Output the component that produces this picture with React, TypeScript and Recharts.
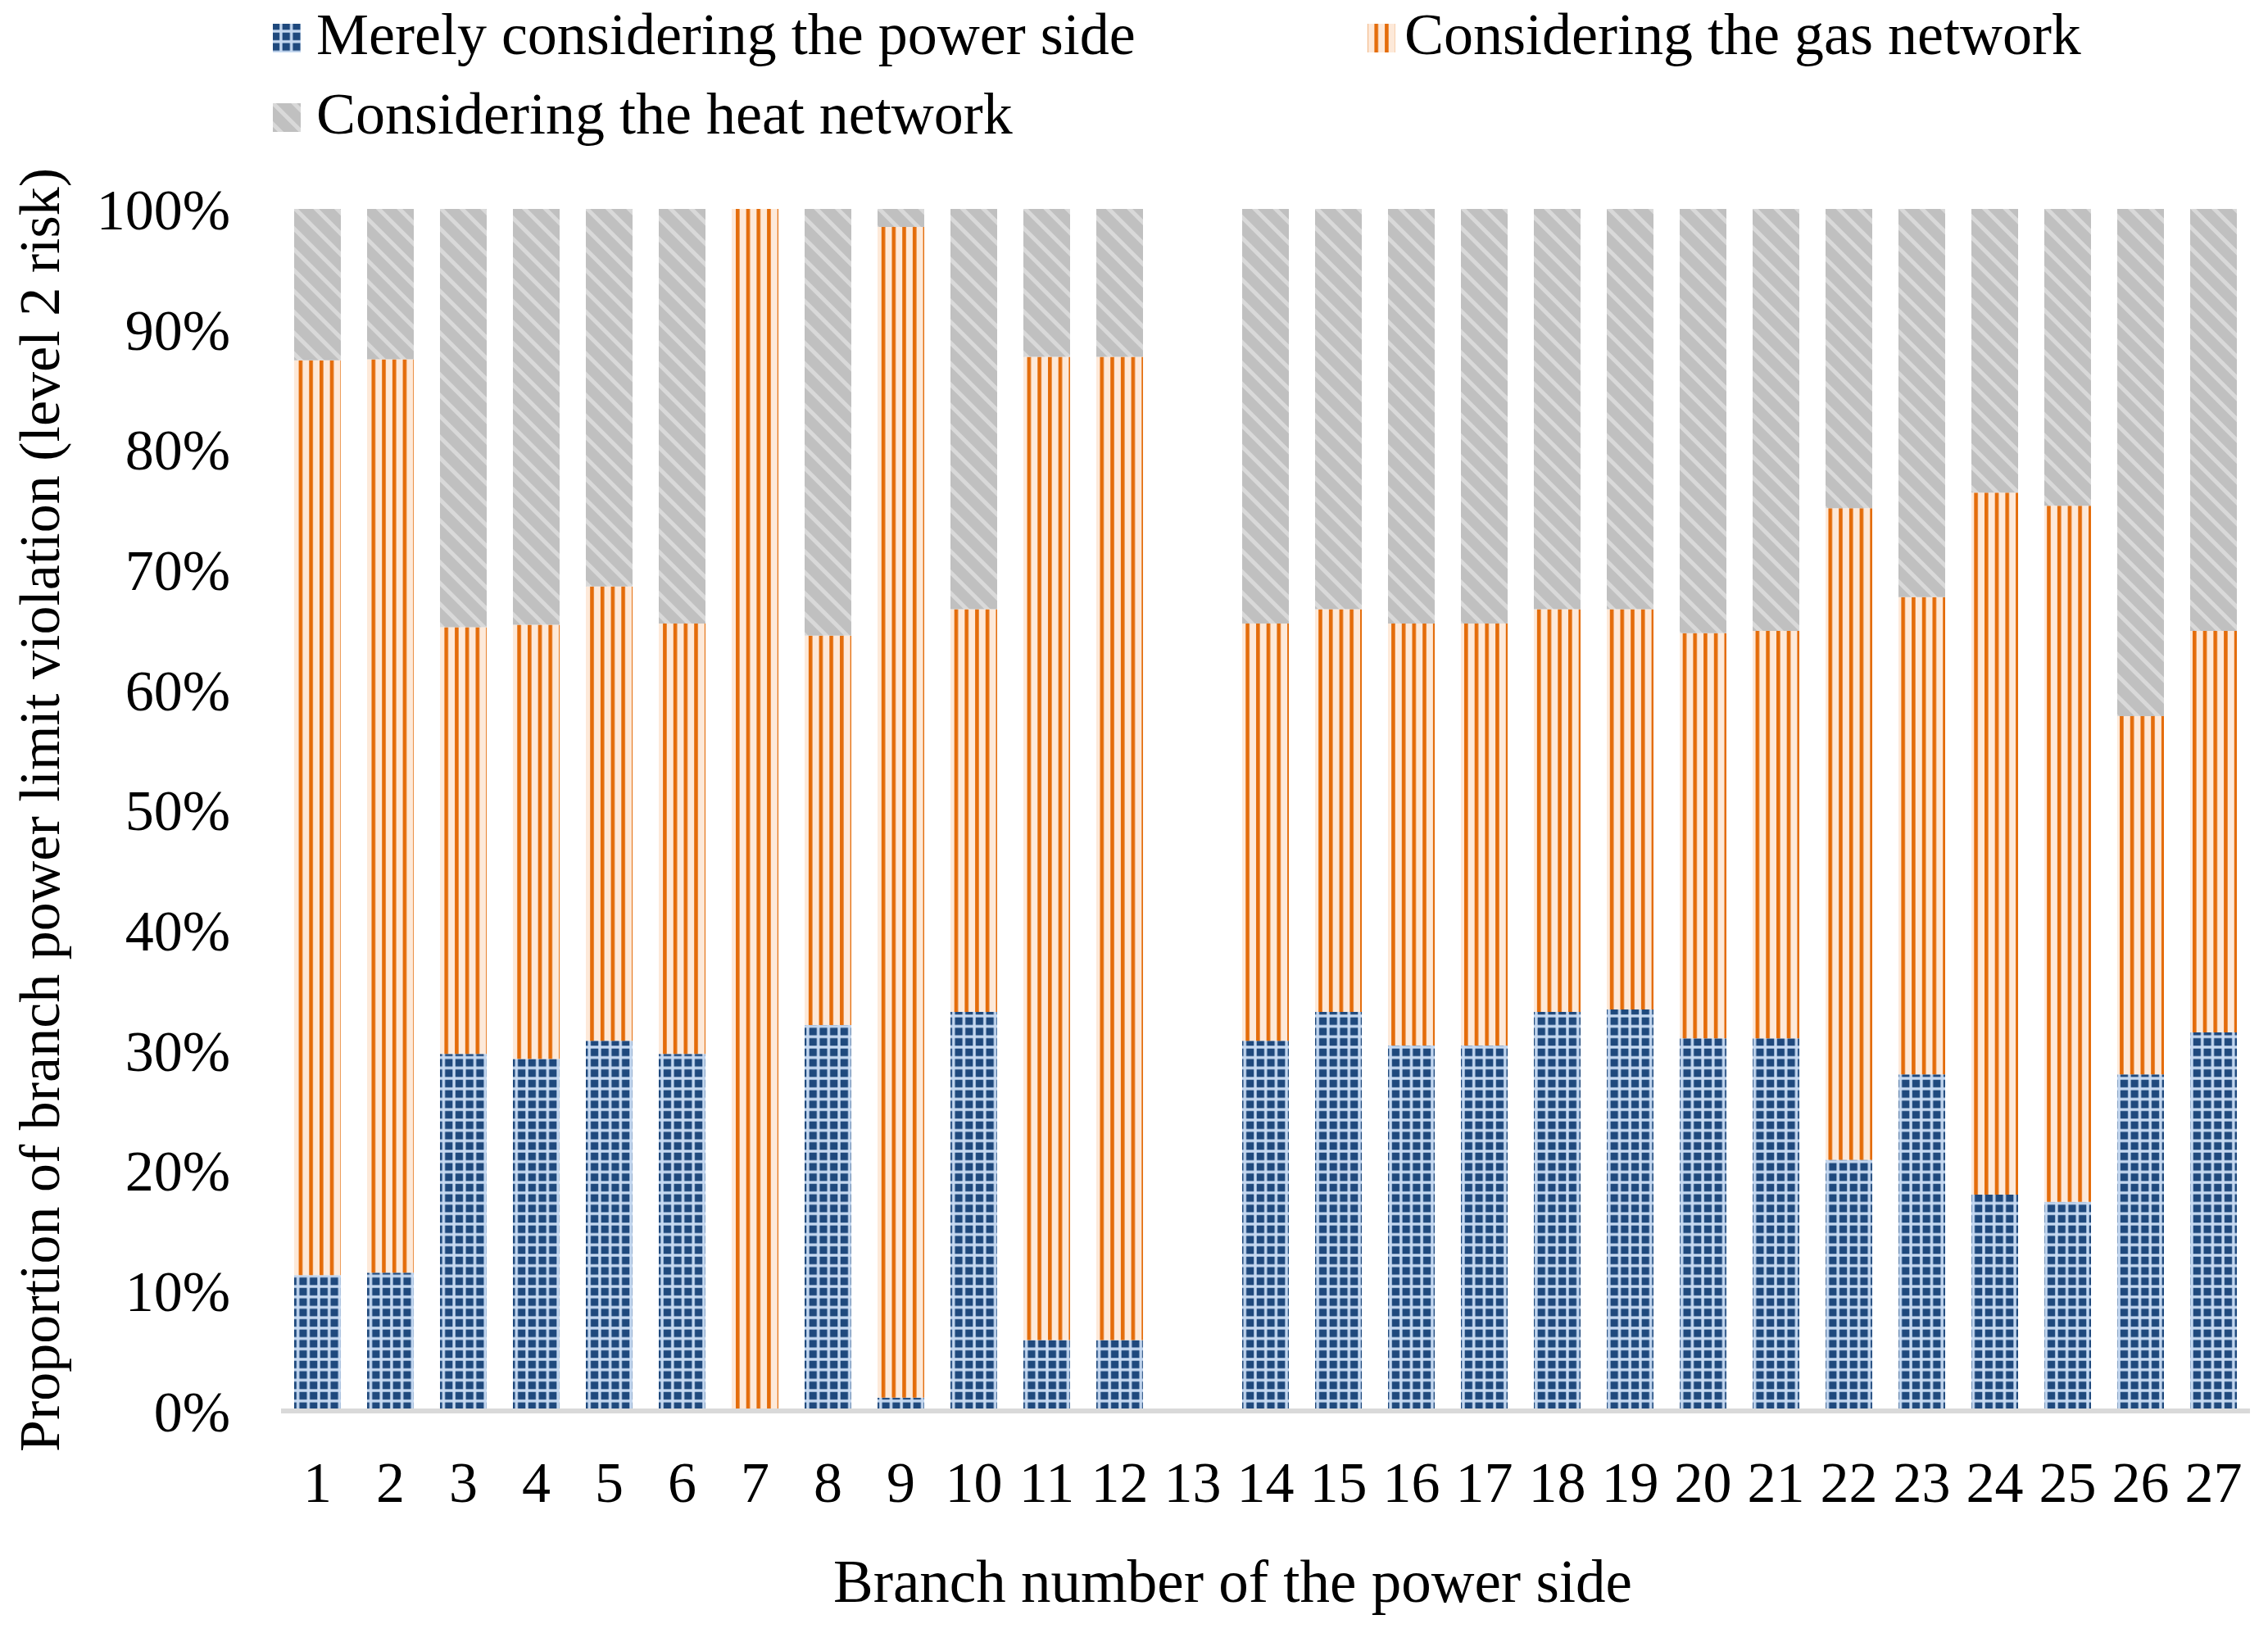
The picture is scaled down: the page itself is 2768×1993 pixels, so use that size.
import { Bar, BarChart, XAxis, YAxis } from 'recharts'

const branches = [
  '1', '2', '3', '4', '5', '6', '7', '8', '9', '10', '11', '12', '13', '14',
  '15', '16', '17', '18', '19', '20', '21', '22', '23', '24', '25', '26', '27',
]

// percentages
const powerSide = [
  11.3, 11.5, 29.7, 29.3, 30.8, 29.7, 0, 32.1, 1.1, 33.2, 5.9, 5.9, 0, 30.8,
  33.2, 30.4, 30.4, 33.2, 33.4, 31.0, 31.0, 20.9, 28.0, 18.0, 17.4, 28.0, 31.5,
]
const gasNetwork = [
  76.1, 76.0, 35.5, 36.1, 37.8, 35.8, 100, 32.4, 97.4, 33.5, 81.8, 81.8, 0, 34.7,
  33.5, 35.1, 35.1, 33.5, 33.3, 33.7, 33.9, 54.2, 39.7, 58.4, 57.9, 29.8, 33.4,
]
const heatNetwork = [
  12.6, 12.5, 34.8, 34.6, 31.4, 34.5, 0, 35.5, 1.5, 33.3, 12.3, 12.3, 0, 34.5,
  33.3, 34.5, 34.5, 33.3, 33.3, 35.3, 35.1, 24.9, 32.3, 23.6, 24.7, 42.2, 35.1,
]

const yTicks = [0, 10, 20, 30, 40, 50, 60, 70, 80, 90, 100]

const seriesNames = [
  'Merely considering the power side',
  'Considering the gas network',
  'Considering the heat network',
]

const FONT = '"Liberation Serif", "Times New Roman", serif'

const data = branches.map((b, i) => ({
  branch: b,
  power: powerSide[i],
  gas: gasNetwork[i],
  heat: heatNetwork[i],
}))

function Patterns() {
  return (
    <defs>
      <pattern id="pat-power" width={12.7} height={12.7} patternUnits="userSpaceOnUse">
        <rect width={12.7} height={12.7} fill="#c6d9f1" />
        <rect x={1.7} y={1.7} width={9.3} height={9.3} fill="#1f497d" />
      </pattern>
      <pattern id="pat-gas" width={12.7} height={10} patternUnits="userSpaceOnUse">
        <rect width={12.7} height={10} fill="#fde9d9" />
        <rect x={1} width={4.6} height={10} fill="#e46c0a" />
      </pattern>
      <pattern
        id="pat-heat"
        width={18}
        height={18}
        patternUnits="userSpaceOnUse"
        patternTransform="rotate(-45)"
      >
        <rect width={18} height={18} fill="#c0c0c0" />
        <rect x={0} width={5} height={18} fill="#d9d9d9" />
      </pattern>
    </defs>
  )
}

// legend drawn on top of the chart, same page coords as the figure
function LegendOverlay() {
  const items = [
    { name: seriesNames[0], fill: 'url(#pat-power)', x: 333, tx: 386, y: 66 },
    { name: seriesNames[1], fill: 'url(#pat-gas)', x: 1669, tx: 1714, y: 66 },
    { name: seriesNames[2], fill: 'url(#pat-heat)', x: 333, tx: 386, y: 163 },
  ]
  return (
    <svg
      width={2768}
      height={220}
      style={{ position: 'absolute', left: -8, top: -8, pointerEvents: 'none', overflow: 'visible' }}
    >
      {items.map((it) => (
        <g key={it.name}>
          <rect x={it.x} y={it.y - 37} width={34} height={35} fill={it.fill} />
          <text x={it.tx} y={it.y} fontSize={72} fontFamily={FONT} fill="#000">
            {it.name}
          </text>
        </g>
      ))}
    </svg>
  )
}

export default function App() {
  return (
    <div style={{ position: 'relative', width: 2760, height: 1985, fontFamily: FONT }}>
      <BarChart
        width={2760}
        height={1985}
        data={data}
        margin={{ top: 247, right: 22, bottom: 0, left: 0 }}
        barSize={57}
      >
        <Patterns />
        <XAxis
          dataKey="branch"
          interval={0}
          height={271}
          tickLine={false}
          tickSize={0}
          tickMargin={61}
          axisLine={{ stroke: '#d9d9d9', strokeWidth: 6 }}
          tick={{ fontSize: 70, fill: '#000', fontFamily: FONT }}
          label={{
            value: 'Branch number of the power side',
            position: 'insideBottom',
            offset: 38,
            dx: -40,
            fontSize: 73,
            fill: '#000',
            fontFamily: FONT,
          }}
        />
        <YAxis
          width={335}
          domain={[0, 100]}
          ticks={yTicks}
          tickFormatter={(v: number) => `${v}%`}
          axisLine={false}
          tickLine={false}
          tickSize={0}
          tickMargin={62}
          tick={{ fontSize: 70, fill: '#000', fontFamily: FONT }}
          label={{
            value: 'Proportion of branch power limit violation (level 2 risk)',
            angle: -90,
            position: 'insideLeft',
            offset: 39,
            fontSize: 70,
            fill: '#000',
            fontFamily: FONT,
            style: { textAnchor: 'middle' },
          }}
        />
        <Bar dataKey="power" name={seriesNames[0]} stackId="a" fill="url(#pat-power)" isAnimationActive={false} />
        <Bar dataKey="gas" name={seriesNames[1]} stackId="a" fill="url(#pat-gas)" isAnimationActive={false} />
        <Bar dataKey="heat" name={seriesNames[2]} stackId="a" fill="url(#pat-heat)" isAnimationActive={false} />
      </BarChart>
      <LegendOverlay />
    </div>
  )
}
